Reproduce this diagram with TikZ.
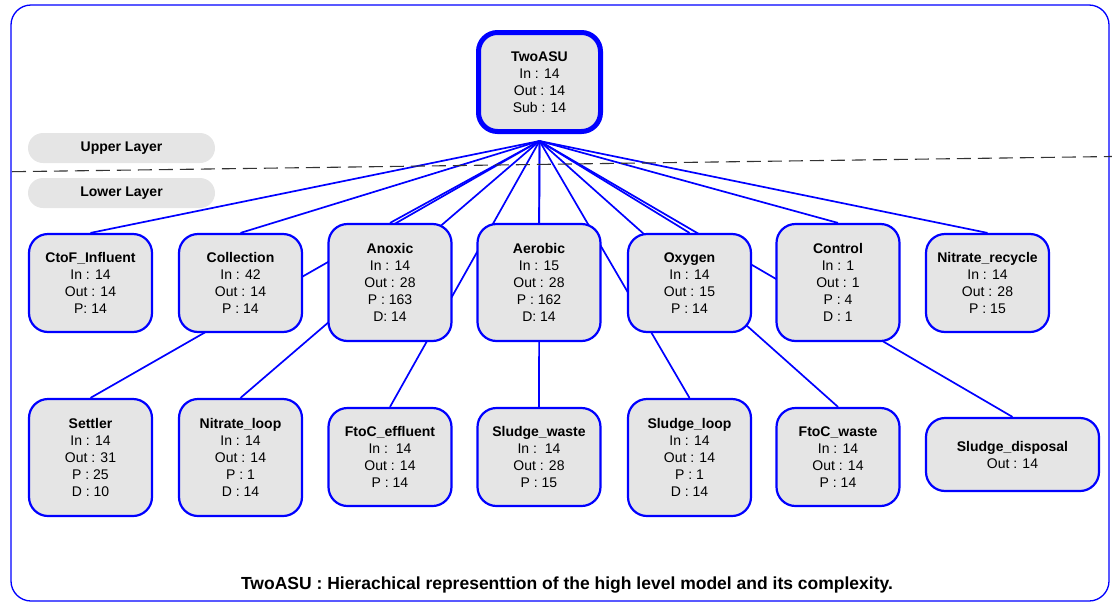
\documentclass[tikz,border=0pt]{standalone}
\usepackage{fontspec}
\setmainfont{Liberation Sans}
\usetikzlibrary{backgrounds}
\definecolor{boxgray}{RGB}{229,229,229}
\definecolor{linkblue}{RGB}{0,0,255}

\begin{document}
\begin{tikzpicture}[x=1pt, y=-1pt,
    unit/.style={draw=linkblue, line width=2.2pt, fill=boxgray, rounded corners=19pt,
      align=center, inner sep=0pt, minimum width=123pt, minimum height=98pt,
      font=\fontsize{14}{17}\selectfont},
    tall/.style={unit, minimum height=117pt},
    link/.style={linkblue, line width=1.7pt},
    layer/.style={fill=boxgray, rounded corners=15pt, minimum width=187pt,
      minimum height=30pt, font=\fontsize{14}{17}\selectfont\bfseries}]
    \useasboundingbox (0,0) rectangle (1112,603);
    \draw[linkblue, line width=1.3pt, rounded corners=20pt] (11,5) rectangle (1109,601);

    % layers
    \coordinate (cutL) at (12,171.7);
    \coordinate (cutR) at (1112,156.5);
    \draw[black!80, line width=1.1pt, dash pattern=on 14pt off 7pt] (cutL) -- (cutR);
    \node[layer] (upper) at (121.5,148) {Upper Layer};
    \node[layer] (lower) at (121.5,193) {Lower Layer};

    % top
    \node[unit, line width=5pt, minimum width=122pt, minimum height=99pt] (top) at (539.5,82)
      {\textbf{TwoASU}\\In : 14\\Out : 14\\Sub : 14};
    \coordinate (hub) at (539.5,141);

    % first row
    \node[unit] (ctof) at (90.5,283) {\textbf{CtoF\_Influent}\\In : 14\\Out : 14\\P: 14};
    \node[unit] (collect) at (240.5,283) {\textbf{Collection}\\In : 42\\Out : 14\\P : 14};
    \node[tall] (anoxic) at (390,282.5) {\textbf{Anoxic}\\In : 14\\Out : 28\\P : 163\\D: 14};
    \node[tall] (aerobic) at (539,282.5) {\textbf{Aerobic}\\In : 15\\Out : 28\\P : 162\\D: 14};
    \node[unit] (oxygen) at (689.5,283) {\textbf{Oxygen}\\In : 14\\Out : 15\\P : 14};
    \node[tall] (control) at (838,282.5) {\textbf{Control}\\In : 1\\Out : 1\\P : 4\\D : 1};
    \node[unit] (nrecycle) at (987.5,283) {\textbf{Nitrate\_recycle}\\In : 14\\Out : 28\\P : 15};

    % second row
    \node[tall] (settler) at (90.5,457.5) {\textbf{Settler}\\In : 14\\Out : 31\\P : 25\\D : 10};
    \node[tall] (nloop) at (240.5,457.5) {\textbf{Nitrate\_loop}\\In : 14\\Out : 14\\P : 1\\D : 14};
    \node[unit] (ftoceff) at (390,457) {\textbf{FtoC\_effluent}\\In :\ \ 14\\Out : 14\\P : 14};
    \node[unit] (swaste) at (539,457) {\textbf{Sludge\_waste}\\In :\ \ 14\\Out : 28\\P : 15};
    \node[tall] (sloop) at (689.5,457.5) {\textbf{Sludge\_loop}\\In : 14\\Out : 14\\P : 1\\D : 14};
    \node[unit] (ftocw) at (838,457) {\textbf{FtoC\_waste}\\In : 14\\Out : 14\\P : 14};
    \node[unit, minimum width=173pt, minimum height=73pt] (sdisp) at (1012.5,454.5)
      {\textbf{Sludge\_disposal}\\Out : 14};

    \begin{pgfonlayer}{background}
      \foreach \n in {ctof,collect,anoxic,aerobic,oxygen,control,nrecycle,
                      settler,nloop,ftoceff,swaste,sloop,ftocw,sdisp}
        \draw[link] (hub) -- (\n.north);
    \end{pgfonlayer}

    \node[font=\fontsize{17.5}{20}\selectfont\bfseries] (caption) at (567,585)
      {TwoASU : Hierachical representtion of the high level model and its complexity.};
  \end{tikzpicture}
\end{document}
